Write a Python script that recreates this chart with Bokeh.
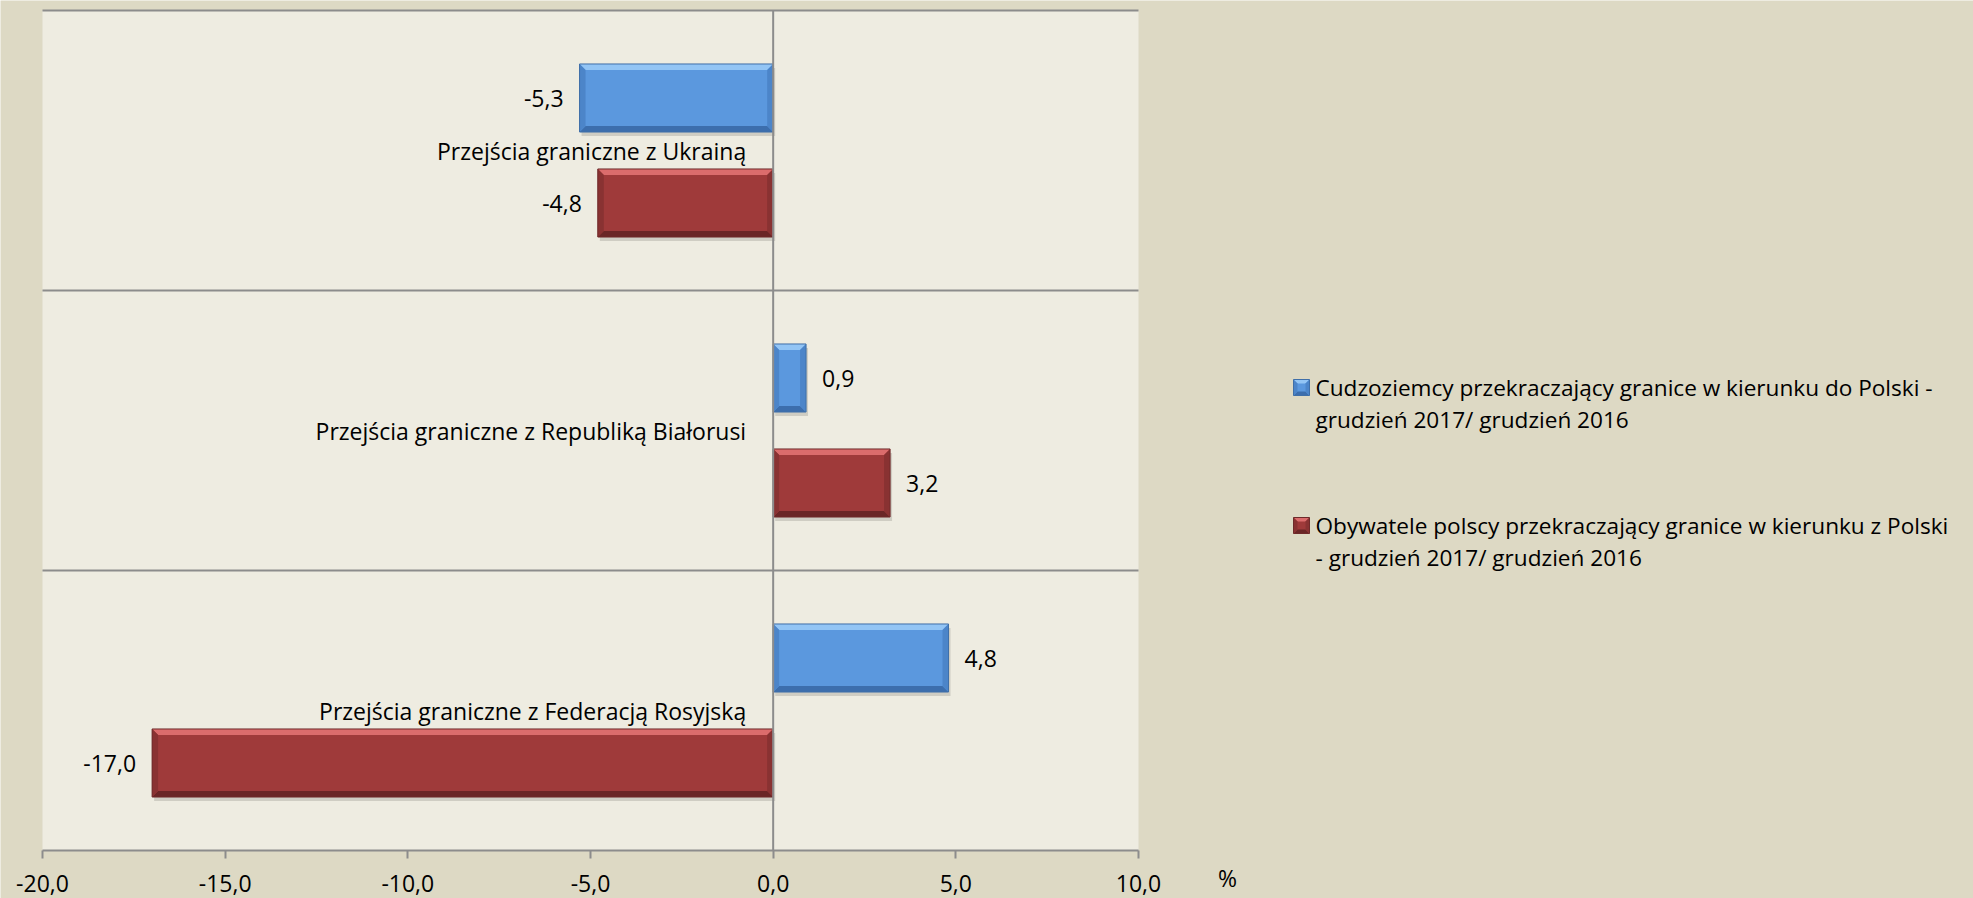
from bokeh.plotting import figure
from bokeh.models import Range1d, FixedTicker
from bokeh.embed import file_html
from bokeh.resources import INLINE
from bokeh.core.properties import value

# ---------------- data ----------------
categories = [
    "Przejścia graniczne z Ukrainą",
    "Przejścia graniczne z Republiką Białorusi",
    "Przejścia graniczne z Federacją Rosyjską",
]
foreigners = [-5.3, 0.9, 4.8]     # Cudzoziemcy ... do Polski
poles = [-4.8, 3.2, -17.0]        # Obywatele polscy ... z Polski
series_line1 = [
    "Cudzoziemcy przekraczający granice w kierunku do Polski -",
    "Obywatele polscy przekraczający granice w kierunku z Polski",
]
series_line2 = [
    "grudzień 2017/ grudzień 2016",
    "- grudzień 2017/ grudzień 2016",
]
x_ticks = [-20, -15, -10, -5, 0, 5, 10]
unit_label = "%"

# ---------------- style / layout ----------------
FONT = "Open Sans"
FS = "23px"
FS_LEG = "22.6px"
OUTER = "#DDD9C4"
INNER = "#EEECE1"
GRID = "#8C8C8C"
BLUE = dict(base="#5B98DE", top="#93C5F5", bottom="#3C6EAD", side="#4C85C9", line="#3F6FA8")
RED = dict(base="#9F3A3A", top="#DB6C6C", bottom="#6A2626", side="#893232", line="#6E2A2A")

W, H = 1973, 898
PLOT_L, PLOT_R, PLOT_T, PLOT_B = 42, 1138, 10, 850
XMIN, XMAX = x_ticks[0], x_ticks[-1]
n = len(categories)
PX = (PLOT_R - PLOT_L) / (XMAX - XMIN)
PY = (PLOT_B - PLOT_T) / n

def X(sx):  # screen x -> data x
    return XMIN + (sx - PLOT_L) / PX

def Y(sy):  # screen y -> data y
    return (PLOT_B - sy) / PY

def fmt(v):
    return f"{v:.1f}".replace(".", ",")

p = figure(width=W, height=H, x_range=Range1d(X(0), X(W)), y_range=Range1d(Y(H), Y(0)),
           output_backend="svg", toolbar_location=None, y_axis_location=None, min_border=0)
p.border_fill_color = OUTER
p.background_fill_color = OUTER
p.outline_line_color = None
p.xgrid.visible = False
p.ygrid.visible = False

# plot area
p.quad(left=[XMIN], right=[XMAX], bottom=[0], top=[n], fill_color=INNER, line_color=None)
bounds = list(range(1, n + 1))
p.segment(x0=[XMIN] * n, x1=[XMAX] * n, y0=bounds, y1=bounds, line_color=GRID, line_width=2)

centers = [n - i - 0.5 for i in range(n)]
OFF = 0.1875
BH = 0.243


def bevel_boxes(boxes, col, b_px, shadow=True):
    bx, by = b_px / PX, b_px / PY
    main_x, main_y, tx, ty, bxs, bys, sx_, sy_, shx, shy = ([] for _ in range(10))
    for x0, x1, y0, y1 in boxes:
        main_x.append([x0, x1, x1, x0]); main_y.append([y0, y0, y1, y1])
        tx.append([x0, x1, x1 - bx, x0 + bx]); ty.append([y1, y1, y1 - by, y1 - by])
        bxs.append([x0, x1, x1 - bx, x0 + bx]); bys.append([y0, y0, y0 + by, y0 + by])
        sx_.append([x0, x0, x0 + bx, x0 + bx]); sy_.append([y0, y1, y1 - by, y0 + by])
        sx_.append([x1, x1, x1 - bx, x1 - bx]); sy_.append([y0, y1, y1 - by, y0 + by])
        ox, oy = 2 / PX, 4 / PY
        shx.append([x0 + ox, x1 + ox, x1 + ox, x0 + ox]); shy.append([y0 - oy, y0 - oy, y1 - oy, y1 - oy])
    if shadow:
        p.patches(shx, shy, fill_color="#000000", fill_alpha=0.13, line_color=None)
    p.patches(main_x, main_y, fill_color=col["base"], line_color=None)
    p.patches(tx, ty, fill_color=col["top"], line_color=None)
    p.patches(bxs, bys, fill_color=col["bottom"], line_color=None)
    p.patches(sx_, sy_, fill_color=col["side"], line_color=None)
    p.patches(main_x, main_y, fill_color=None, line_color=col["line"], line_width=1)


def draw_series(vals, dy, col):
    boxes = [(min(0, v), max(0, v), c + dy - BH / 2, c + dy + BH / 2) for v, c in zip(vals, centers)]
    bevel_boxes(boxes, col, 6)
    for v, c in zip(vals, centers):
        p.text(x=[v], y=[c + dy], text=[fmt(v)], x_offset=16 if v >= 0 else -16,
               text_align="left" if v >= 0 else "right", text_baseline="middle",
               text_font=value(FONT), text_font_size=FS, text_color="black")


draw_series(foreigners, OFF, BLUE)
draw_series(poles, -OFF, RED)

# vertical axis line at 0
p.segment(x0=[0], x1=[0], y0=[0], y1=[n], line_color=GRID, line_width=2)

# category labels
p.text(x=[0] * n, y=centers, text=categories, x_offset=-27, text_align="right",
       text_baseline="middle", text_font=value(FONT), text_font_size=FS, text_color="black")

# x axis (drawn at y = 0, only over the plot area)
ax = p.xaxis[0]
ax.fixed_location = 0
ax.bounds = (XMIN, XMAX)
ax.ticker = FixedTicker(ticks=x_ticks)
ax.major_label_overrides = {t: fmt(t) for t in x_ticks}
ax.major_label_text_font = FONT
ax.major_label_text_font_size = FS
ax.major_label_text_color = "black"
ax.axis_line_color = GRID
ax.axis_line_width = 2
ax.major_tick_line_color = GRID
ax.major_tick_line_width = 2
ax.major_tick_out = 8
ax.major_tick_in = 0
ax.minor_tick_line_color = None
ax.major_label_standoff = 16

# unit label
p.text(x=[X(1227)], y=[Y(877)], text=[unit_label], text_align="center", text_baseline="middle",
       text_font=value(FONT), text_font_size=FS, text_color="black")

# legend
leg_cy = [387, 525]
sq = 16
for col, l1, l2, cy in zip([BLUE, RED], series_line1, series_line2, leg_cy):
    bevel_boxes([(X(1293), X(1293 + sq), Y(cy + sq / 2), Y(cy - sq / 2))], col, 4, shadow=False)
    p.text(x=[X(1315), X(1315)], y=[Y(cy), Y(cy + 32)], text=[l1, l2], text_align="left",
           text_baseline="middle", text_font=value(FONT), text_font_size=FS_LEG, text_color="black")

open("out.html", "w").write(file_html(p, INLINE))
